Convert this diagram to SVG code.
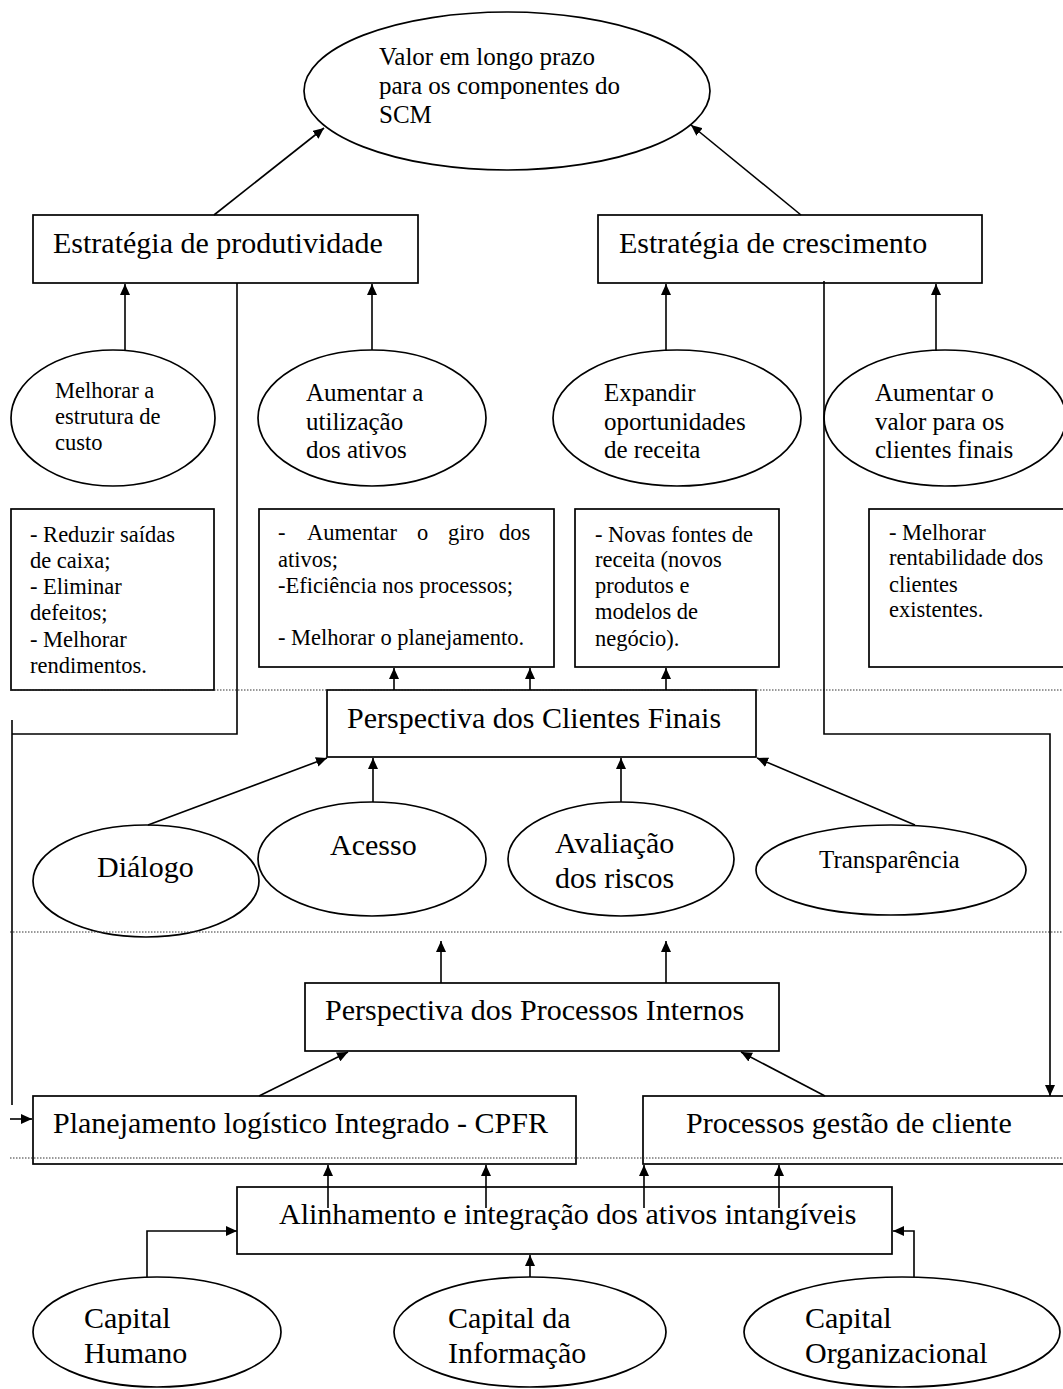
<svg xmlns="http://www.w3.org/2000/svg" width="1063" height="1389" viewBox="0 0 1063 1389">
<style>
  .n { fill: #fff; stroke: #000; stroke-width: 1.7; }
  .t { font-family: "Liberation Serif", "Times New Roman", serif; fill: #000; }
  .f30 { font-size: 30px; }
  .f25 { font-size: 25px; }
  .f22 { font-size: 22.5px; }
  .c { fill: none; stroke: #000; stroke-width: 1.6; }
  .a { marker-end: url(#ah); }
  .dot { fill: none; stroke: #333; stroke-width: 1; stroke-dasharray: 1.5 1.5; }
</style>
<defs>
  <marker id="ah" markerUnits="userSpaceOnUse" markerWidth="11" markerHeight="10" refX="11" refY="5" orient="auto">
    <path d="M0,0 L11,5 L0,10 z" fill="#000"/>
  </marker>
</defs>
<rect width="1063" height="1389" fill="#fff"/>

<g id="valor"><ellipse class="n" cx="507" cy="91" rx="203" ry="79"/>
  <text class="t f25"><tspan x="379" y="65">Valor em longo prazo</tspan><tspan x="379" y="94">para os componentes do</tspan><tspan x="379" y="123">SCM</tspan></text></g>

<g id="produtividade"><rect class="n" x="33" y="215" width="385" height="68"/>
  <text class="t f30" x="53" y="253">Estratégia de produtividade</text></g>
<g id="crescimento"><rect class="n" x="598" y="215" width="384" height="68"/>
  <text class="t f30" x="619" y="253">Estratégia de crescimento</text></g>

<g id="melhorar"><ellipse class="n" cx="113" cy="418" rx="102" ry="68"/>
  <text class="t f22"><tspan x="55" y="398">Melhorar a</tspan><tspan x="55" y="424">estrutura de</tspan><tspan x="55" y="450">custo</tspan></text></g>
<g id="utilizacao"><ellipse class="n" cx="372" cy="418" rx="114" ry="68"/>
  <text class="t f25"><tspan x="306" y="401">Aumentar a</tspan><tspan x="306" y="430">utilização</tspan><tspan x="306" y="458">dos ativos</tspan></text></g>
<g id="expandir"><ellipse class="n" cx="677" cy="418" rx="124" ry="68"/>
  <text class="t f25"><tspan x="604" y="401">Expandir</tspan><tspan x="604" y="430">oportunidades</tspan><tspan x="604" y="458">de receita</tspan></text></g>
<g id="valorclientes"><ellipse class="n" cx="945" cy="418" rx="121" ry="68"/>
  <text class="t f25"><tspan x="875" y="401">Aumentar o</tspan><tspan x="875" y="430">valor para os</tspan><tspan x="875" y="458">clientes finais</tspan></text></g>

<g id="box1"><rect class="n" x="11" y="509" width="203" height="181"/>
  <text class="t f22"><tspan x="30" y="542">- Reduzir saídas</tspan><tspan x="30" y="568">de caixa;</tspan><tspan x="30" y="594">- Eliminar</tspan><tspan x="30" y="620">defeitos;</tspan><tspan x="30" y="647">- Melhorar</tspan><tspan x="30" y="673">rendimentos.</tspan></text></g>
<g id="box2"><rect class="n" x="259" y="509" width="295" height="158"/>
  <text class="t f22"><tspan x="278" y="540">-</tspan><tspan x="307" y="540">Aumentar</tspan><tspan x="417" y="540">o</tspan><tspan x="448" y="540">giro</tspan><tspan x="499" y="540">dos</tspan><tspan x="278" y="567">ativos;</tspan><tspan x="278" y="593">-Eficiência nos processos;</tspan><tspan x="278" y="645">- Melhorar o planejamento.</tspan></text></g>
<g id="box3"><rect class="n" x="575" y="509" width="204" height="158"/>
  <text class="t f22"><tspan x="595" y="542">- Novas fontes de</tspan><tspan x="595" y="567">receita (novos</tspan><tspan x="595" y="593">produtos e</tspan><tspan x="595" y="619">modelos de</tspan><tspan x="595" y="646">negócio).</tspan></text></g>
<g id="box4"><rect class="n" x="869" y="509" width="201" height="158"/>
  <text class="t f22"><tspan x="889" y="540">- Melhorar</tspan><tspan x="889" y="565">rentabilidade dos</tspan><tspan x="889" y="592">clientes</tspan><tspan x="889" y="617">existentes.</tspan></text></g>

<g id="clientes"><rect class="n" x="327" y="690" width="429" height="67"/>
  <text class="t f30" x="347" y="728">Perspectiva dos Clientes Finais</text></g>

<g id="dialogo"><ellipse class="n" cx="146" cy="881" rx="113" ry="56"/>
  <text class="t f30" x="97" y="877">Diálogo</text></g>
<g id="acesso"><ellipse class="n" cx="372" cy="859" rx="114" ry="57"/>
  <text class="t f30" x="330" y="855">Acesso</text></g>
<g id="avaliacao"><ellipse class="n" cx="621" cy="859" rx="113" ry="57"/>
  <text class="t f30"><tspan x="555" y="853">Avaliação</tspan><tspan x="555" y="888">dos riscos</tspan></text></g>
<g id="transparencia"><ellipse class="n" cx="891" cy="870" rx="135" ry="45"/>
  <text class="t f25" x="819" y="868">Transparência</text></g>

<g id="internos"><rect class="n" x="305" y="983" width="474" height="68"/>
  <text class="t f30" x="325" y="1020">Perspectiva dos Processos Internos</text></g>
<g id="cpfr"><rect class="n" x="33" y="1096" width="543" height="68"/>
  <text class="t f30" x="53" y="1133">Planejamento logístico Integrado - CPFR</text></g>
<g id="gestao"><rect class="n" x="643" y="1096" width="427" height="68"/>
  <text class="t f30" x="686" y="1133">Processos gestão de cliente</text></g>
<g id="alinhamento"><rect class="n" x="237" y="1187" width="655" height="67"/>
  <text class="t f30" x="279" y="1224">Alinhamento e integração dos ativos intangíveis</text></g>

<g id="humano"><ellipse class="n" cx="157" cy="1332" rx="124" ry="55"/>
  <text class="t f30"><tspan x="84" y="1328">Capital</tspan><tspan x="84" y="1363">Humano</tspan></text></g>
<g id="informacao"><ellipse class="n" cx="530" cy="1332" rx="136" ry="55"/>
  <text class="t f30"><tspan x="448" y="1328">Capital da</tspan><tspan x="448" y="1363">Informação</tspan></text></g>
<g id="organizacional"><ellipse class="n" cx="902" cy="1332" rx="158" ry="55"/>
  <text class="t f30"><tspan x="805" y="1328">Capital</tspan><tspan x="805" y="1363">Organizacional</tspan></text></g>

<g id="separators">
  <path class="dot" d="M10,690 H1063"/>
  <path class="dot" d="M10,932 H1063"/>
  <path class="dot" d="M10,1158 H1063"/>
</g>

<g id="connectors">
  <path class="c a" d="M214,215 L324,128"/>
  <path class="c a" d="M801,215 L691,125"/>
  <path class="c a" d="M125,350 V284"/>
  <path class="c a" d="M372,350 V284"/>
  <path class="c a" d="M666,351 V284"/>
  <path class="c a" d="M936,351 V284"/>
  <path class="c a" d="M394,690 V668"/>
  <path class="c a" d="M530,690 V668"/>
  <path class="c a" d="M666,690 V668"/>
  <path class="c a" d="M148,825 L327,758"/>
  <path class="c a" d="M373,802 V758"/>
  <path class="c a" d="M621,802 V758"/>
  <path class="c a" d="M915,825 L757,758"/>
  <path class="c a" d="M441,983 V941"/>
  <path class="c a" d="M666,983 V941"/>
  <path class="c a" d="M259,1096 L348,1052"/>
  <path class="c a" d="M825,1096 L741,1052"/>
  <path class="c" d="M237,283 V734 H12"/>
  <path class="c" d="M12,720 V1105"/>
  <path class="c a" d="M10,1119 H32"/>
  <path class="c a" d="M824,281 V734 H1050 V1096"/>
  <path class="c a" d="M328,1208 V1165"/>
  <path class="c a" d="M486,1208 V1165"/>
  <path class="c a" d="M644,1208 V1165"/>
  <path class="c a" d="M779,1208 V1165"/>
  <path class="c a" d="M147,1277 V1231 H237"/>
  <path class="c a" d="M530,1277 V1255"/>
  <path class="c a" d="M914,1277 V1231 H893"/>
</g>
</svg>
